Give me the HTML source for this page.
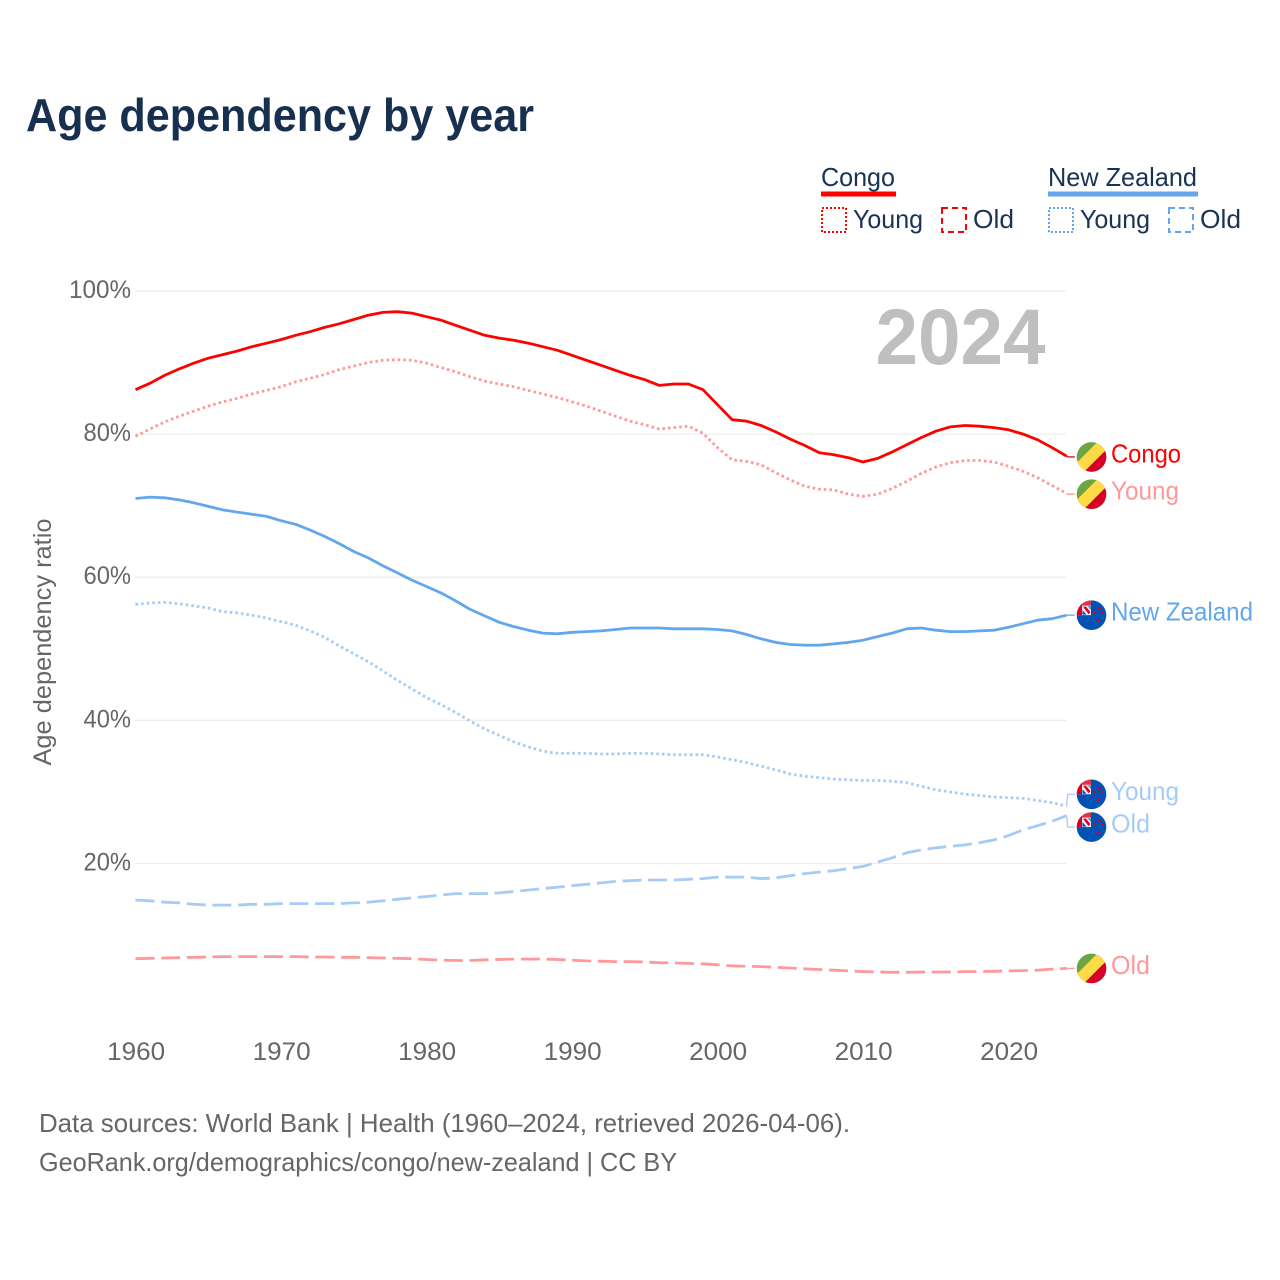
<!DOCTYPE html>
<html lang="en">
<head>
<meta charset="utf-8">
<title>Age dependency by year</title>
<style>
html,body{margin:0;padding:0;background:#fff;width:1280px;height:1280px;overflow:hidden}
svg{display:block}
text{font-family:"Liberation Sans",sans-serif}
.tick{font-size:25px;fill:#666}
.leg{font-size:26px;fill:#1a3354}
.lab{font-size:26px}
.src{font-size:26px;fill:#666}
</style>
</head>
<body>
<svg id="chart" width="1280" height="1280" viewBox="0 0 1280 1280" xmlns="http://www.w3.org/2000/svg">
  <defs>
    <clipPath id="flag-clip"><circle cx="0" cy="0" r="14.8"/></clipPath>
    <g id="flag-cg">
      <g clip-path="url(#flag-clip)">
        <rect x="-15" y="-15" width="30" height="30" fill="#6da544"/>
        <polygon points="-15,15 -15,6 6,-15 15,-15 15,-7.5 -7.5,15" fill="#ffda44"/>
        <polygon points="-7.5,15 15,-7.5 15,15" fill="#d80027"/>
      </g>
    </g>
    <g id="flag-nz">
      <g clip-path="url(#flag-clip)">
        <rect x="-15" y="-15" width="30" height="30" fill="#0052b4"/>
        <rect x="-15" y="-15" width="14.5" height="15" fill="#f0f0f0"/>
        <rect x="-15" y="-15" width="14.5" height="5.5" fill="#e0324b"/>
        <rect x="-15" y="-15" width="5.5" height="15" fill="#d80027"/>
        <polygon points="-8.5,-8.5 -5.5,-8.5 -1,-3 -3,-1" fill="#d80027"/>
        <polygon points="-9,-5 -9,-0.5 -5,-0.5" fill="#0052b4"/>
        <polygon points="-4,-9 -0.5,-9 -0.5,-5" fill="#0052b4" opacity=".6"/>
        <circle cx="7.8" cy="-6.5" r="1.4" fill="#d80027"/>
        <circle cx="3.5" cy="-2.5" r="1.3" fill="#d80027"/>
        <circle cx="10.7" cy="-2.5" r="1.1" fill="#d80027"/>
        <circle cx="6.8" cy="5.5" r="1.7" fill="#d80027"/>
      </g>
    </g>
  </defs>

  <text x="26" y="131" font-size="46" font-weight="700" fill="#17304f" textLength="508" lengthAdjust="spacingAndGlyphs">Age dependency by year</text>

  <g id="legend">
    <g>
      <text class="leg" x="821" y="186" textLength="74" lengthAdjust="spacingAndGlyphs">Congo</text>
      <rect x="821" y="191.5" width="75" height="5" fill="#ff0000"/>
      <rect x="822" y="208" width="24" height="24" fill="none" stroke="#ff0000" stroke-width="2" stroke-dasharray="2 2"/>
      <text class="leg" x="853" y="228" textLength="70" lengthAdjust="spacingAndGlyphs">Young</text>
      <rect x="942" y="208" width="24" height="24" fill="none" stroke="#ff0000" stroke-width="2" stroke-dasharray="6 4"/>
      <text class="leg" x="973" y="228" textLength="41" lengthAdjust="spacingAndGlyphs">Old</text>
    </g>
    <g>
      <text class="leg" x="1048" y="186" textLength="149" lengthAdjust="spacingAndGlyphs">New Zealand</text>
      <rect x="1048" y="191.5" width="150" height="5" fill="#62a7ec"/>
      <rect x="1049" y="208" width="24" height="24" fill="none" stroke="#62a7ec" stroke-width="2" stroke-dasharray="2 2"/>
      <text class="leg" x="1080" y="228" textLength="70" lengthAdjust="spacingAndGlyphs">Young</text>
      <rect x="1169" y="208" width="24" height="24" fill="none" stroke="#62a7ec" stroke-width="2" stroke-dasharray="6 4"/>
      <text class="leg" x="1200" y="228" textLength="41" lengthAdjust="spacingAndGlyphs">Old</text>
    </g>
  </g>

  <g id="grid"></g>
  <g id="y-ticks"></g>
  <g id="x-ticks"></g>

  <text transform="translate(51,642) rotate(-90)" text-anchor="middle" font-size="25" fill="#666" textLength="247" lengthAdjust="spacingAndGlyphs">Age dependency ratio</text>

  <text x="875.5" y="364" font-size="79" font-weight="700" fill="#bfbfbf" textLength="170" lengthAdjust="spacingAndGlyphs">2024</text>

  <g id="series"></g>
  <g id="end-labels"></g>

  <text class="src" x="39" y="1132" textLength="811" lengthAdjust="spacingAndGlyphs">Data sources: World Bank | Health (1960–2024, retrieved 2026-04-06).</text>
  <text class="src" x="39" y="1171" textLength="638" lengthAdjust="spacingAndGlyphs">GeoRank.org/demographics/congo/new-zealand | CC BY</text>
</svg>
<script>
const startYear = 1960;
const yTickValues = [20, 40, 60, 80, 100];
const xTickYears = [1960, 1970, 1980, 1990, 2000, 2010, 2020];

const congoTotal = [86.2,87.1,88.2,89.1,89.9,90.6,91.1,91.6,92.2,92.7,93.2,93.8,94.3,94.9,95.4,96.0,96.6,97.0,97.1,96.9,96.4,95.9,95.2,94.5,93.8,93.4,93.1,92.7,92.2,91.7,91.0,90.3,89.6,88.9,88.2,87.6,86.8,87.0,87.0,86.2,84.1,82.0,81.8,81.2,80.3,79.3,78.4,77.4,77.1,76.7,76.1,76.6,77.5,78.5,79.5,80.4,81.0,81.2,81.1,80.9,80.6,80.0,79.2,78.1,76.9];
const congoYoung = [79.7,80.7,81.7,82.5,83.2,83.9,84.5,85.0,85.6,86.1,86.6,87.3,87.8,88.3,89.0,89.5,90.0,90.3,90.4,90.3,89.9,89.3,88.7,88.0,87.4,87.0,86.6,86.1,85.6,85.1,84.5,83.9,83.2,82.5,81.8,81.3,80.7,80.9,81.1,80.1,78.1,76.4,76.2,75.7,74.6,73.6,72.7,72.3,72.2,71.6,71.3,71.6,72.4,73.4,74.5,75.4,76.0,76.3,76.3,76.1,75.5,74.8,73.9,72.8,71.7];
const congoOld = [6.7,6.75,6.8,6.85,6.9,6.95,7.0,7.0,7.0,7.0,7.0,7.0,6.95,6.95,6.9,6.9,6.85,6.8,6.75,6.7,6.6,6.5,6.45,6.45,6.55,6.6,6.65,6.65,6.65,6.6,6.5,6.4,6.35,6.3,6.3,6.25,6.15,6.1,6.05,6.0,5.85,5.7,5.65,5.6,5.5,5.4,5.3,5.2,5.1,5.0,4.9,4.85,4.8,4.8,4.85,4.85,4.85,4.9,4.9,4.95,5.0,5.05,5.1,5.25,5.35];
const nzTotal = [71.0,71.2,71.1,70.8,70.4,69.9,69.4,69.1,68.8,68.5,67.9,67.4,66.6,65.7,64.7,63.6,62.7,61.6,60.6,59.6,58.7,57.8,56.7,55.5,54.6,53.7,53.1,52.6,52.2,52.1,52.3,52.4,52.5,52.7,52.9,52.9,52.9,52.8,52.8,52.8,52.7,52.5,52.0,51.4,50.9,50.6,50.5,50.5,50.7,50.9,51.2,51.7,52.2,52.8,52.9,52.6,52.4,52.4,52.5,52.6,53.0,53.5,54.0,54.2,54.7];
const nzYoung = [56.2,56.4,56.5,56.3,56.0,55.7,55.2,55.0,54.7,54.3,53.8,53.3,52.5,51.6,50.4,49.3,48.2,46.9,45.6,44.4,43.2,42.2,41.1,39.9,38.8,37.9,37.0,36.3,35.7,35.4,35.4,35.4,35.3,35.3,35.4,35.4,35.3,35.2,35.2,35.2,34.9,34.5,34.1,33.6,33.1,32.5,32.2,32.0,31.8,31.7,31.6,31.6,31.5,31.3,30.8,30.3,30.0,29.7,29.5,29.3,29.2,29.1,28.8,28.5,28.0];
const nzOld = [14.9,14.8,14.6,14.5,14.3,14.2,14.2,14.2,14.3,14.3,14.4,14.4,14.4,14.4,14.4,14.5,14.6,14.8,15.0,15.2,15.4,15.6,15.8,15.8,15.8,15.9,16.1,16.3,16.5,16.7,16.9,17.1,17.3,17.5,17.6,17.7,17.7,17.7,17.8,17.9,18.1,18.1,18.1,17.9,18.0,18.3,18.6,18.8,19.0,19.3,19.6,20.2,20.8,21.5,21.9,22.2,22.4,22.6,22.9,23.3,23.9,24.7,25.3,25.9,26.7];

const NS = 'http://www.w3.org/2000/svg';
const RED = '#ff0000', RED_L = '#ff9999', BLUE = '#62a7ec', BLUE_L = '#a6ccf5';
const xScale = year => 135.5 + (year - 1960) * 14.55;
const yScale = value => 1006.7 - value * 7.158;
const tickWidth = label => label.length * 14.5 + (label.endsWith('%') ? 4 : 0);

function mk(tag, attrs, parent) {
  const el = document.createElementNS(NS, tag);
  for (const k in attrs) el.setAttribute(k, attrs[k]);
  parent.appendChild(el);
  return el;
}

const gridG = document.getElementById('grid');
const yG = document.getElementById('y-ticks');
yTickValues.forEach(v => {
  const line = mk('line', {x1: 135, x2: 1066, y1: yScale(v), y2: yScale(v), stroke: '#ececec', 'stroke-width': 1.2}, gridG);
  
  
  const label = v + '%';
  const t = mk('text', {class: 'tick', x: 131, y: yScale(v) + 7, 'text-anchor': 'end', textLength: tickWidth(label), lengthAdjust: 'spacingAndGlyphs'}, yG);
  t.textContent = label;
  
  
});

const xG = document.getElementById('x-ticks');
xTickYears.forEach(yr => {
  const label = String(yr);
  const t = mk('text', {class: 'tick', x: xScale(yr) + 0.7, y: 1060, 'text-anchor': 'middle', textLength: 58, lengthAdjust: 'spacingAndGlyphs'}, xG);
  t.textContent = label;
  
  
});

const seriesG = document.getElementById('series');
const labelsG = document.getElementById('end-labels');

function drawSeries(values, color, dash) {
  const pts = values.map((v, i) => xScale(startYear + i).toFixed(1) + ',' + yScale(v).toFixed(1)).join(' ');
  const attrs = {points: pts, fill: 'none', stroke: color, 'stroke-width': 2.8, 'stroke-linejoin': 'round'};
  if (dash) attrs['stroke-dasharray'] = dash;
  const line = mk('polyline', attrs, seriesG);
  
  
}
drawSeries(congoTotal, RED);
drawSeries(congoYoung, RED_L, '2.6 3');
drawSeries(congoOld, RED_L, '19 6.7');
drawSeries(nzTotal, BLUE);
drawSeries(nzYoung, BLUE_L, '2.6 3');
drawSeries(nzOld, BLUE_L, '19 6.7');

function drawEnd(values, flag, flagOffset, text, color, width) {
  const endX = xScale(startYear + values.length - 1);
  const endY = yScale(values[values.length - 1]);
  const flagY = endY + flagOffset;
  const conn = mk('polyline', {points: endX + ',' + endY + ' ' + (endX + 1) + ',' + flagY + ' ' + (endX + 8) + ',' + flagY, fill: 'none', stroke: color, 'stroke-width': 1.3}, labelsG);
  
  
  const use = mk('use', {href: '#' + flag, x: 1091.5, y: flagY}, labelsG);
  
  
  const t = mk('text', {class: 'lab', x: 1111, y: flagY + 5.5, fill: color, textLength: width, lengthAdjust: 'spacingAndGlyphs'}, labelsG);
  t.textContent = text;
  
  
}
drawEnd(congoTotal, 'flag-cg', 0.7, 'Congo', RED, 70);
drawEnd(congoYoung, 'flag-cg', 0.7, 'Young', RED_L, 68);
drawEnd(congoOld, 'flag-cg', 0, 'Old', RED_L, 39);
drawEnd(nzTotal, 'flag-nz', 0, 'New Zealand', BLUE, 142);
drawEnd(nzYoung, 'flag-nz', -12, 'Young', BLUE_L, 68);
drawEnd(nzOld, 'flag-nz', 11.5, 'Old', BLUE_L, 39);
</script>
</body>
</html>
